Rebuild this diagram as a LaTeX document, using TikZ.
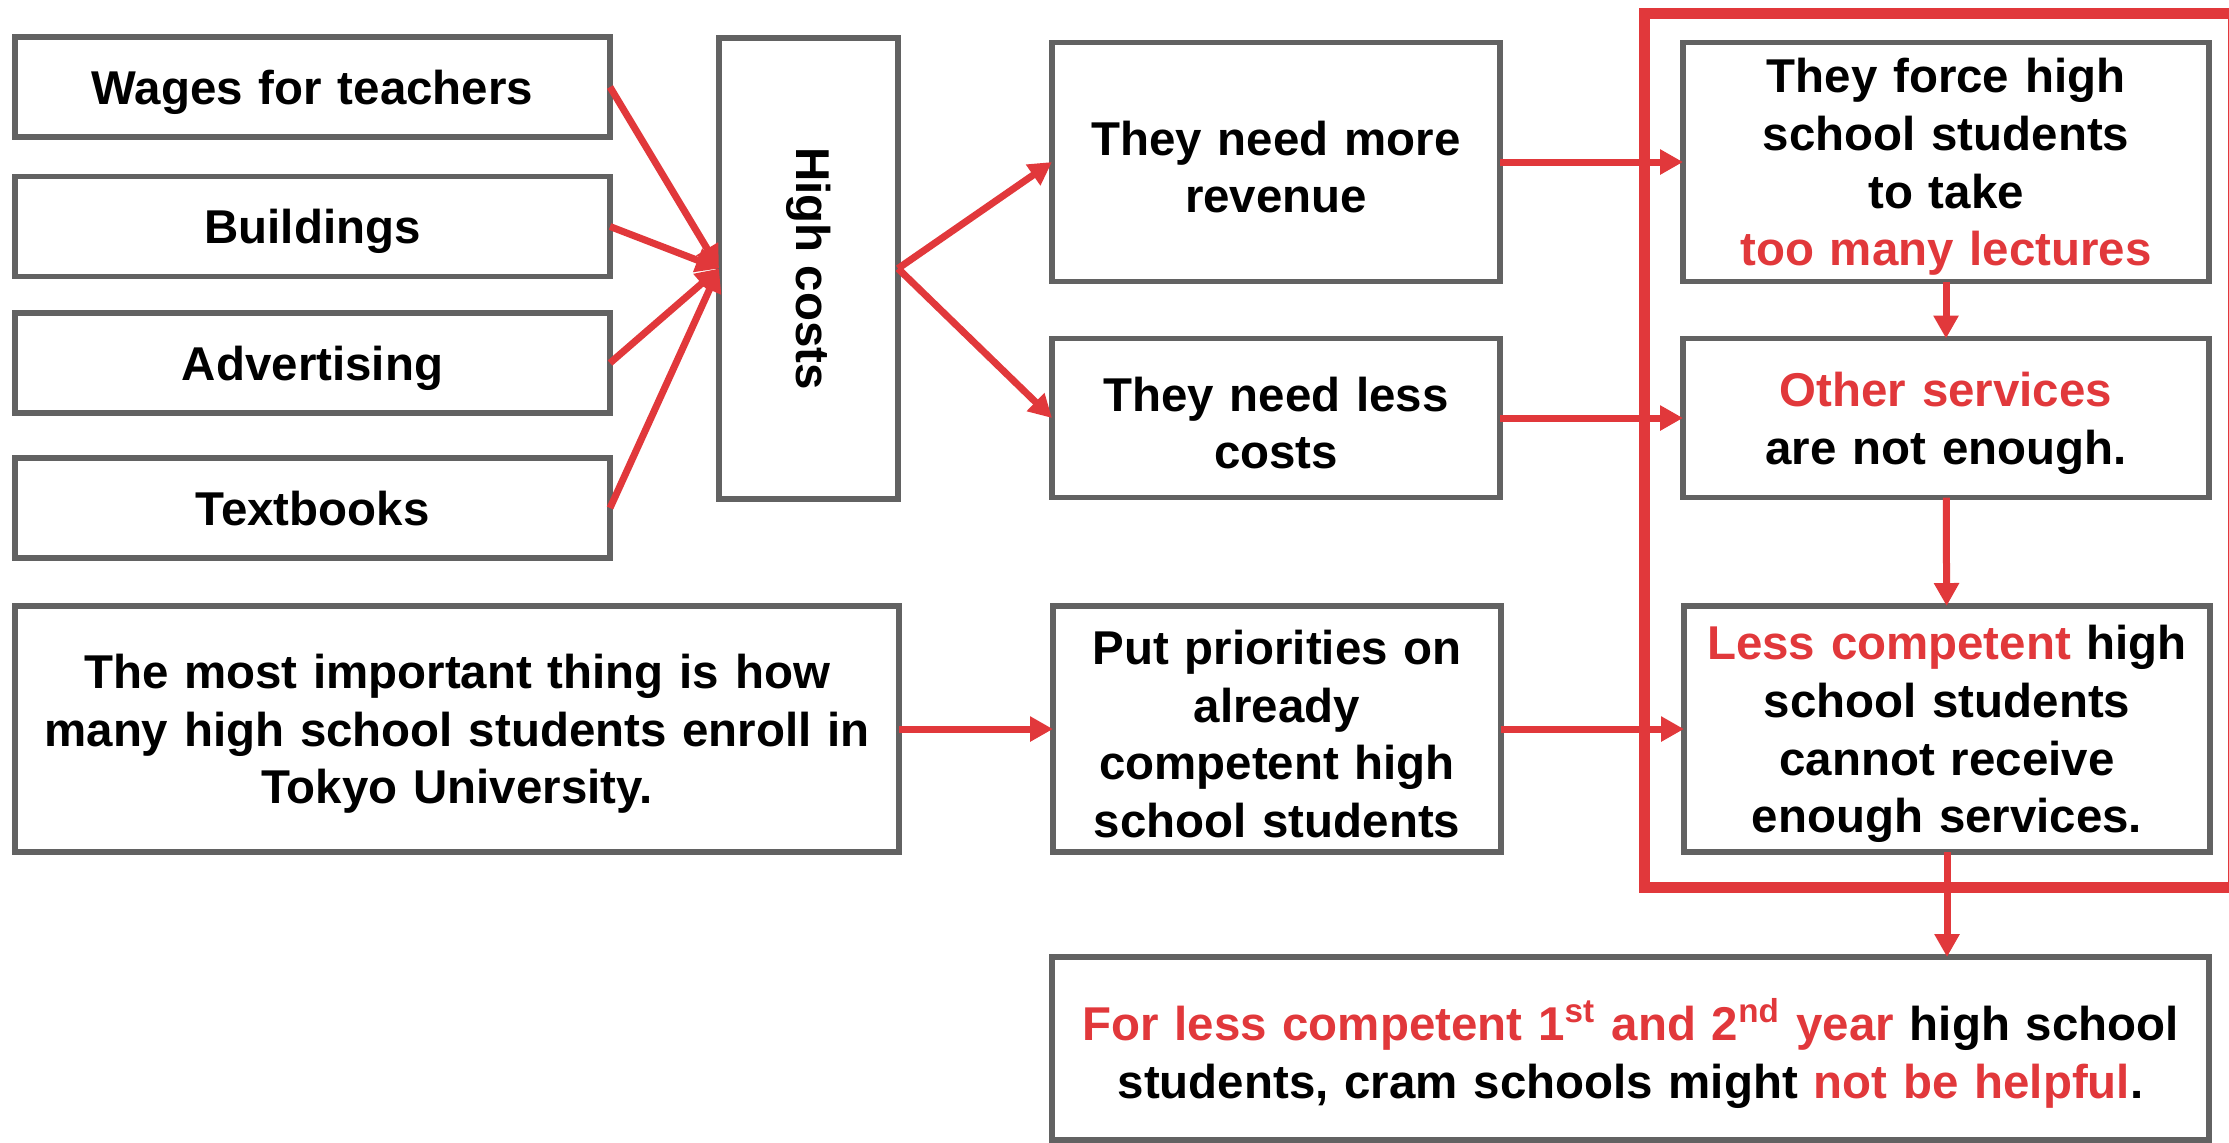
\documentclass[tikz,border=0pt]{standalone}
\usepackage{fontspec}
\setmainfont{Liberation Sans}
\usepackage{tikz}
\usetikzlibrary{shapes,arrows,arrows.meta,positioning,calc}
\definecolor{alertred}{HTML}{E1383B}
\definecolor{boxgray}{HTML}{626262}
\newcommand\Hi[1]{\textcolor{alertred}{#1}}
\tikzset{box/.style={
    draw=boxgray,
    rectangle,
    line width=0.055cm,
    inner sep=0pt,
    outer sep=0pt,
    align=center,
    execute at end node={\par\vspace*{-0.1cm}},
    font=\fontsize{13.5}{16.4}\selectfont\bfseries,
  }}
\begin{document}
\begin{tikzpicture}[auto,
        smallbox/.style={box, text width=5.95cm, minimum height=1.0cm},
        midbox/.style={box, text width=4.48cm},
        rightbox/.style={box, text width=5.26cm},
        arr/.style={draw=alertred, line width=0.07cm, -{Triangle[length=0.23cm,width=0.24cm]}},
        frame/.style={draw=alertred, line width=0.11cm}
        ]
        \useasboundingbox (0,0) rectangle (22.29,-11.42);

        % Cost items
        \node (wages) [smallbox] at (3.125,-0.87) {Wages for teachers};
        \node (buildings) [smallbox, below=0.395cm of wages] {Buildings};
        \node (advert) [smallbox, below=0.365cm of buildings] {Advertising};
        \node (textbooks) [smallbox, below=0.45cm of advert] {Textbooks};

        \node (costs) [draw=boxgray, line width=0.055cm, outer sep=0pt, minimum width=1.79cm, minimum height=4.61cm] at (8.085,-2.685) {};
        \node [rotate=-90, font=\fontsize{13.5}{16.4}\selectfont\bfseries] at (costs.center) {High costs};

        \node (revenue) [midbox, minimum height=2.39cm] at (12.76,-1.62) {They need more\\revenue};
        \node (lesscost) [midbox, minimum height=1.59cm, below=0.57cm of revenue] {They need less\\costs};

        \node (important) [box, text width=8.84cm, minimum height=2.46cm] at (4.57,-7.29)
          {The most important thing is how\\many high school students enroll in\\Tokyo University.};
        \node (priority) [midbox, minimum height=2.46cm, right=1.54cm of important]
          {Put priorities on\\already\\competent high\\school students};

        % Right column
        \node (force) [rightbox, minimum height=2.39cm, right=1.83cm of revenue]
          {They force high\\school students\\to take\\\Hi{too many lectures}};
        \node (other) [rightbox, minimum height=1.59cm, right=1.83cm of lesscost]
          {\Hi{Other services}\\are not enough.};
        \node (lesscomp) [rightbox, minimum height=2.46cm, right=1.83cm of priority]
          {\Hi{Less competent} high\\school students\\cannot receive\\enough services.};

        \draw [frame] (16.44,-0.135) rectangle (22.33,-8.87);

        \node (result) [box, text width=11.57cm, minimum height=1.83cm] at (16.305,-10.485)
          {\Hi{For less competent 1\textsuperscript{st} and 2\textsuperscript{nd} year} high school\\students, cram schools might \Hi{not be helpful}.};

        % Arrows
        \foreach \item in {wages,buildings,advert,textbooks}
          \draw [arr] (\item.east) -- (costs.west);
        \draw [arr] (costs.east) -- (revenue.west);
        \draw [arr] (costs.east) -- (lesscost.west);
        \draw [arr] (revenue) -- (force);
        \draw [arr] (lesscost) -- (other);
        \draw [arr] (important) -- (priority);
        \draw [arr] (priority) -- (lesscomp);
        \draw [arr] (force) -- (other);
        \draw [arr] (other) -- (lesscomp);
        \draw [arr] (lesscomp.south) -- (lesscomp.south |- result.north);

      \end{tikzpicture}
\end{document}
